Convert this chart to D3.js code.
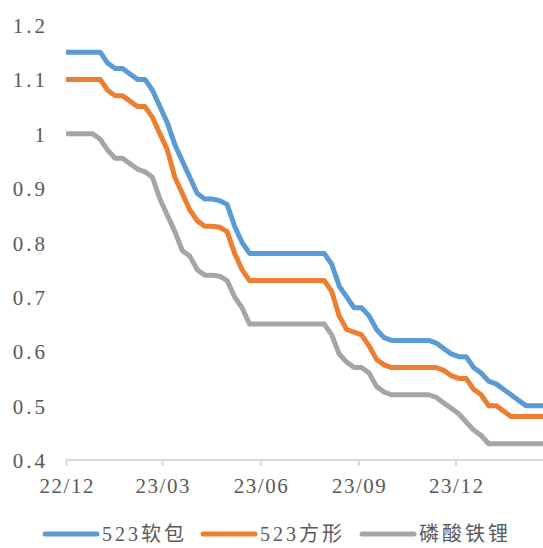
<!DOCTYPE html>
<html>
<head>
<meta charset="utf-8">
<script src="https://cdn.jsdelivr.net/npm/d3@7"></script>
<style>
  body { margin: 0; background: #fff; }
  .tick-label { font-family: "Liberation Serif", serif; fill: #595959; }
  .legend-label { font-family: "Liberation Serif", "Noto Sans CJK SC", sans-serif; fill: #595959; }
</style>
</head>
<body>
<div id="chart"></div>
<script>
// first point is 2022-12-01, after that weekly (Mondays)
const startDate = new Date(2022, 11, 1);
const weekDates = d3.timeMonday.range(new Date(2022, 11, 5), new Date(2024, 1, 27));
const dates = [startDate].concat(weekDates);

const seriesNames = ['523软包', '523方形', '磷酸铁锂'];
const seriesColors = ['#5B9BD5', '#ED7D31', '#A5A5A5'];

const softPack = [1.15,
  1.15, 1.15, 1.15, 1.15, 1.15,
  1.13, 1.12, 1.12, 1.11, 1.10, 1.10, 1.08, 1.05, 1.02, 0.98,
  0.95, 0.92, 0.89, 0.88, 0.88, 0.877, 0.87, 0.83, 0.80, 0.78,
  0.78, 0.78, 0.78, 0.78, 0.78, 0.78, 0.78, 0.78, 0.78, 0.78,
  0.76, 0.72, 0.70, 0.68, 0.68, 0.665, 0.64, 0.625, 0.62,
  0.62, 0.62, 0.62, 0.62, 0.62,
  0.615, 0.605, 0.595, 0.59, 0.59, 0.57, 0.56, 0.545, 0.54, 0.53, 0.52, 0.51, 0.50,
  0.50, 0.50, 0.50];

const prismatic = [1.10,
  1.10, 1.10, 1.10, 1.10, 1.10,
  1.08, 1.07, 1.07, 1.06, 1.05, 1.05, 1.03, 1.00, 0.97, 0.92,
  0.89, 0.86, 0.84, 0.83, 0.83, 0.828, 0.82, 0.78, 0.75, 0.73,
  0.73, 0.73, 0.73, 0.73, 0.73, 0.73, 0.73, 0.73, 0.73, 0.73,
  0.71, 0.665, 0.64, 0.635, 0.63, 0.61, 0.585, 0.575, 0.57,
  0.57, 0.57, 0.57, 0.57, 0.57,
  0.57, 0.565, 0.555, 0.55, 0.55, 0.53, 0.52, 0.50, 0.50, 0.49, 0.48, 0.48, 0.48,
  0.48, 0.48, 0.48];

const lfp = [1.00,
  1.00, 1.00, 1.00, 1.00,
  0.99, 0.97, 0.955, 0.955, 0.945, 0.935, 0.93, 0.92, 0.88, 0.85, 0.82,
  0.785, 0.775, 0.75, 0.74, 0.74, 0.738, 0.73, 0.70, 0.68, 0.65,
  0.65, 0.65, 0.65, 0.65, 0.65, 0.65, 0.65, 0.65, 0.65, 0.65,
  0.63, 0.595, 0.58, 0.57, 0.57, 0.56, 0.535, 0.525, 0.52,
  0.52, 0.52, 0.52, 0.52, 0.52,
  0.515, 0.505, 0.495, 0.485, 0.47, 0.455, 0.445, 0.43,
  0.43, 0.43, 0.43, 0.43, 0.43, 0.43, 0.43, 0.43];

const yTicks = [0.4, 0.5, 0.6, 0.7, 0.8, 0.9, 1.0, 1.1, 1.2];
const xTicks = [new Date(2022, 11, 1), new Date(2023, 2, 1), new Date(2023, 5, 1),
                new Date(2023, 8, 1), new Date(2023, 11, 1)];

const width = 543, height = 548;
const margin = {top: 25, right: 0, bottom: 88, left: 66};

const svg = d3.select('#chart').append('svg')
    .attr('width', width)
    .attr('height', height);

const x = d3.scaleTime()
    .domain([startDate, new Date(2024, 1, 21)])
    .range([margin.left, width - margin.right]);

const y = d3.scaleLinear()
    .domain([0.4, 1.2])
    .range([height - margin.bottom, margin.top]);

svg.append('clipPath').attr('id', 'plot-clip')
  .append('rect')
    .attr('x', margin.left - 4)
    .attr('y', 0)
    .attr('width', width - margin.left + 4)
    .attr('height', height);

// y axis: labels only
const yAxis = svg.append('g')
    .attr('transform', `translate(${margin.left},0)`)
    .call(d3.axisLeft(y).tickValues(yTicks).tickSize(0).tickPadding(18)
      .tickFormat(d => d === 1 ? '1' : d3.format('.1f')(d)));
yAxis.select('.domain').remove();
yAxis.selectAll('text')
    .attr('class', 'tick-label')
    .attr('font-size', 21)
    .attr('letter-spacing', '3px')
    .attr('dy', '0.36em');

// x axis
const xAxis = svg.append('g')
    .attr('transform', `translate(0,${height - margin.bottom})`)
    .call(d3.axisBottom(x).tickValues(xTicks).tickSize(6).tickPadding(12)
      .tickFormat(d3.timeFormat('%y/%m')));
xAxis.select('.domain')
    .attr('stroke', '#D9D9D9')
    .attr('stroke-width', 2)
    .attr('d', `M${margin.left},0H${width}`);
xAxis.selectAll('.tick line').attr('stroke', '#D9D9D9').attr('stroke-width', 2);
xAxis.selectAll('text')
    .attr('class', 'tick-label')
    .attr('font-size', 21)
    .attr('letter-spacing', '1.5px')
    .attr('dx', '0.75px');

const line = d3.line()
    .x((d, i) => x(dates[i]))
    .y(d => y(d));

const allSeries = [softPack, prismatic, lfp];

svg.append('g')
    .attr('clip-path', 'url(#plot-clip)')
  .selectAll('path')
  .data(allSeries)
  .enter().append('path')
    .attr('fill', 'none')
    .attr('stroke', (d, i) => seriesColors[i])
    .attr('stroke-width', 5)
    .attr('stroke-linejoin', 'round')
    .attr('d', line);

// legend
const legendX = [45, 203, 362];
const legend = svg.append('g')
  .selectAll('g')
  .data(seriesNames)
  .enter().append('g')
    .attr('transform', (d, i) => `translate(${legendX[i]},534)`);

legend.append('line')
    .attr('x1', 0).attr('x2', 52)
    .attr('stroke', (d, i) => seriesColors[i])
    .attr('stroke-width', 5)
    .attr('stroke-linecap', 'round');

legend.append('text')
    .attr('class', 'legend-label')
    .attr('x', 57)
    .attr('dy', '0.36em')
    .attr('font-size', 20)
    .attr('letter-spacing', '3px')
    .text(d => d);
</script>
</body>
</html>
